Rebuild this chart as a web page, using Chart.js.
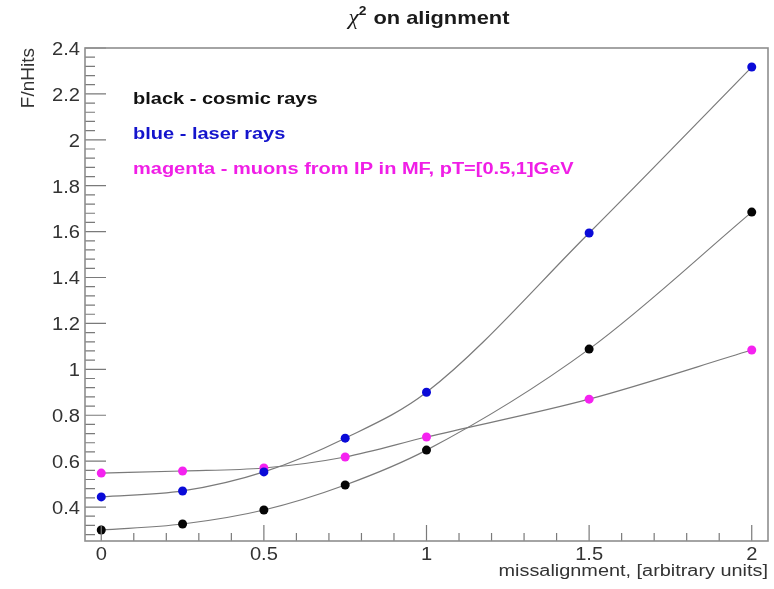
<!DOCTYPE html>
<html>
<head>
<meta charset="utf-8">
<script src="https://cdn.jsdelivr.net/npm/chart.js@4.4.1/dist/chart.umd.min.js"></script>
<style>
	html, body { margin: 0; padding: 0; background: #fff; }
	#wrap { width: 774px; height: 589px; }
</style>
</head>
<body>
<div id="wrap"><canvas id="myChart" width="774" height="589"></canvas></div>
<script>
// misalignment values (x)
let xValues = [0, 0.25, 0.5, 0.75, 1, 1.5, 2]

// F/nHits per sample
let cosmicValues = [0.300, 0.326, 0.387, 0.496, 0.648, 1.088, 1.685]
let laserValues = [0.444, 0.470, 0.553, 0.700, 0.900, 1.594, 2.317]
let muonValues = [0.548, 0.557, 0.570, 0.618, 0.705, 0.870, 1.084]

let xTicks = [0, 0.5, 1, 1.5, 2]
let yTicks = [0.4, 0.6, 0.8, 1, 1.2, 1.4, 1.6, 1.8, 2, 2.2, 2.4]

let titleSymbol = "\u03C7"
let titleSup = "2"
let titleRest = " on alignment"
let xTitle = "missalignment, [arbitrary units]"
let yTitle = "F/nHits"

// Legend text with colors
let notes = [
	{text: "black - cosmic rays", color: "#111111"},
	{text: "blue - laser rays", color: "#1414cc"},
	{text: "magenta - muons from IP in MF, pT=[0.5,1]GeV", color: "#f01ee6"},
]

let fontFamily = "'Liberation Sans', Arial, Helvetica, sans-serif"
let stretch = 1.15

// draw text a bit wider than the font, like the reference
function wideText(ctx, text, x, y, align, sx) {
	ctx.save()
	ctx.translate(x, y)
	ctx.scale(sx, 1)
	ctx.textAlign = align
	ctx.fillText(text, 0, 0)
	ctx.restore()
}

function toPoints(values) {
	return xValues.map((x, i) => ({x: x, y: values[i]}))
}

function fitLine(values) {
	return {
		type: "line",
		data: toPoints(values),
		borderColor: "#7a7a7a",
		borderWidth: 1.2,
		pointRadius: 0,
		cubicInterpolationMode: "monotone",
		fill: false,
		order: 2,
	}
}

function markers(values, color) {
	return {
		type: "scatter",
		data: toPoints(values),
		backgroundColor: color,
		borderColor: color,
		pointRadius: 4.5,
		borderWidth: 0,
		showLine: false,
		order: 1,
	}
}

// ROOT-like frame, inner ticks and texts
let rootStyle = {
	id: "rootStyle",
	afterDraw(chart) {
		let ctx = chart.ctx
		let area = chart.chartArea
		let xs = chart.scales.x
		let ys = chart.scales.y
		ctx.save()

		// ticks
		ctx.strokeStyle = "#7a7a7a"
		ctx.lineWidth = 1.2
		ctx.beginPath()
		for (let k = 7; k <= 60; k++) {
			let r = k * 0.04
			let y = ys.getPixelForValue(r)
			let major = k % 5 == 0
			ctx.moveTo(area.left, y)
			ctx.lineTo(area.left + (major ? 21 : 10), y)
		}
		for (let k = 0; k <= 20; k++) {
			let x = xs.getPixelForValue(k * 0.1)
			let major = k % 5 == 0
			ctx.moveTo(x, area.bottom)
			ctx.lineTo(x, area.bottom - (major ? 16 : 8))
		}
		ctx.stroke()

		// frame
		ctx.strokeStyle = "#8e8e8e"
		ctx.lineWidth = 1.6
		ctx.strokeRect(area.left, area.top, area.right - area.left, area.bottom - area.top)

		// tick labels
		ctx.fillStyle = "#333"
		ctx.font = "17.5px " + fontFamily
		ctx.textBaseline = "middle"
		yTicks.forEach(v => {
			wideText(ctx, String(v), 80, ys.getPixelForValue(v) + 2, "right", stretch)
		})
		ctx.textBaseline = "alphabetic"
		xTicks.forEach(v => {
			wideText(ctx, String(v), xs.getPixelForValue(v), 560, "center", stretch)
		})

		// title
		ctx.fillStyle = "#1a1a1a"
		let symFont = "italic 20px 'Liberation Serif', serif"
		let supFont = "bold 12px " + fontFamily
		let restFont = "bold 19px " + fontFamily
		ctx.font = symFont
		let w1 = ctx.measureText(titleSymbol).width * stretch
		ctx.font = supFont
		let w2 = ctx.measureText(titleSup).width * stretch + 1
		ctx.font = restFont
		let w3 = ctx.measureText(titleRest).width * stretch
		let tx = 429 - (w1 + w2 + w3) / 2
		ctx.font = symFont
		wideText(ctx, titleSymbol, tx, 24, "left", stretch)
		ctx.font = supFont
		wideText(ctx, titleSup, tx + w1, 15, "left", stretch)
		ctx.font = restFont
		wideText(ctx, titleRest, tx + w1 + w2, 24, "left", stretch)

		// x axis title
		ctx.font = "17.3px " + fontFamily
		ctx.fillStyle = "#333"
		wideText(ctx, xTitle, area.right, 576, "right", stretch)

		// y axis title
		ctx.save()
		ctx.translate(34, area.top)
		ctx.rotate(-Math.PI / 2)
		ctx.font = "19px " + fontFamily
		ctx.textAlign = "right"
		ctx.fillText(yTitle, 0, 0)
		ctx.restore()

		// legend notes
		ctx.font = "bold 17.4px " + fontFamily
		notes.forEach((n, i) => {
			ctx.fillStyle = n.color
			wideText(ctx, n.text, 133, 104 + i * 35, "left", stretch)
		})
		ctx.restore()
	}
}

let config = {
	data: {
		datasets: [
			fitLine(cosmicValues),
			fitLine(laserValues),
			fitLine(muonValues),
			markers(cosmicValues, "#050505"),
			markers(laserValues, "#0a0ad8"),
			markers(muonValues, "#f522f0"),
		],
	},
	options: {
		responsive: false,
		animation: false,
		events: [],
		layout: {padding: {top: 48, right: 6, left: 0, bottom: 0}},
		plugins: {
			legend: {display: false},
			tooltip: {enabled: false},
			title: {display: false},
		},
		scales: {
			x: {
				type: "linear",
				min: -0.05,
				max: 2.05,
				afterBuildTicks: s => { s.ticks = xTicks.map(v => ({value: v})) },
				afterFit: s => { s.height = 48 },
				grid: {display: false, drawTicks: false},
				border: {display: false},
				ticks: {display: false},
			},
			y: {
				type: "linear",
				min: 0.252,
				max: 2.4,
				afterBuildTicks: s => { s.ticks = yTicks.map(v => ({value: v})) },
				afterFit: s => { s.width = 85 },
				grid: {display: false, drawTicks: false},
				border: {display: false},
				ticks: {display: false},
			},
		},
	},
	plugins: [rootStyle],
}

let chart = new Chart(document.getElementById("myChart").getContext("2d"), config)
</script>
</body>
</html>
